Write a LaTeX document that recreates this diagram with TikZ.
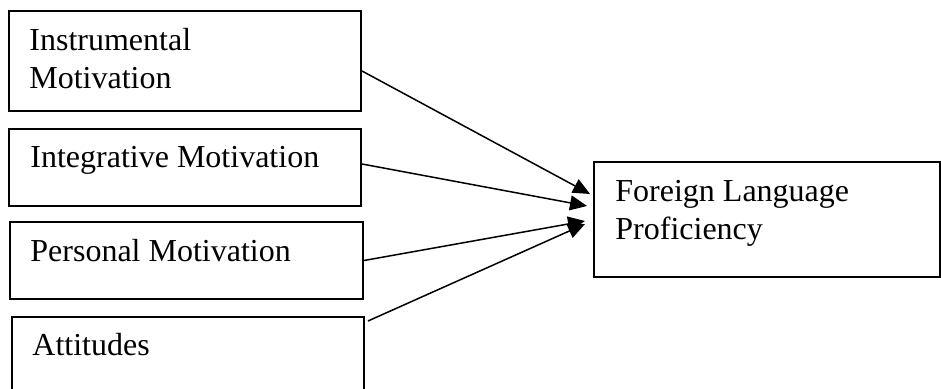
\documentclass[tikz,border=0pt]{standalone}
\usepackage{fontspec}
\setmainfont{Liberation Serif}
\usetikzlibrary{arrows.meta}

\begin{document}
\begin{tikzpicture}[x=0.5pt,y=-0.5pt,
  box/.style={draw,line width=1pt,anchor=north west,inner sep=0pt},
  lbl/.style={anchor=north west,inner sep=0pt,align=left,font=\fontsize{16}{19}\selectfont},
  link/.style={line width=0.75pt,-{Triangle[length=8.5pt,width=7.5pt]}}]
\useasboundingbox (0,0) rectangle (941,389);

% factor boxes
\node[box,minimum width=176pt,minimum height=50pt] (instr) at (8,10) {};
\node[box,minimum width=176pt,minimum height=38.5pt] (integ) at (8,128) {};
\node[box,minimum width=176.5pt,minimum height=38.5pt] (pers) at (9,221) {};
\node[box,minimum width=176pt,minimum height=42pt] (att) at (11,316) {};

% outcome box
\node[box,minimum width=173pt,minimum height=57.5pt] (flp) at (593,161) {};

\node[lbl] (instrtxt) at (29,28) {Instrumental\\Motivation};
\node[lbl] (integtxt) at (30,146) {Integrative Motivation};
\node[lbl] (perstxt) at (30,239) {Personal Motivation};
\node[lbl] (atttxt) at (32,333) {Attitudes};
\node[lbl] (flptxt) at (615,180) {Foreign Language\\Proficiency};

\draw[link] ([yshift=-5pt]instr.east) -- ([xshift=-1.5pt,yshift=12.75pt]flp.west);
\draw[link] ([yshift=1.75pt]integ.east) -- ([xshift=-3pt,yshift=6.75pt]flp.west);
\draw[link] (pers.east) -- ([xshift=-4pt,yshift=-0.75pt]flp.west);
\draw[link] ([xshift=1.5pt,yshift=-2.5pt]att.north east) -- ([xshift=-4pt,yshift=-2.25pt]flp.west);
\end{tikzpicture}
\end{document}
